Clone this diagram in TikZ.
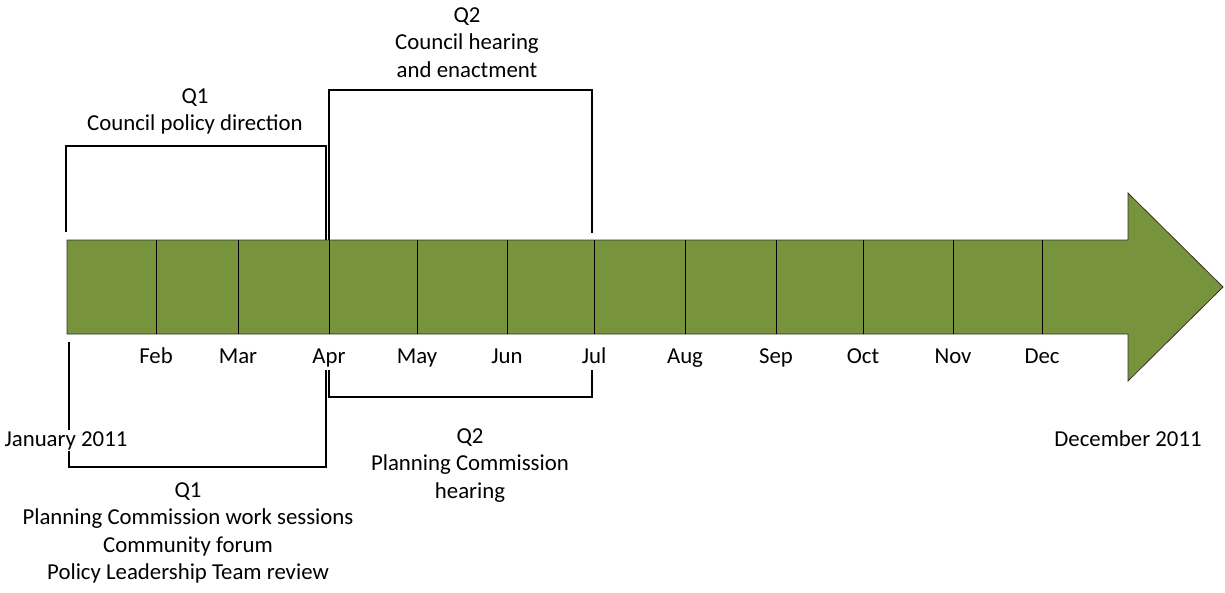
\documentclass[tikz,border=0pt]{standalone}
\usepackage{fontspec}
\setmainfont{Carlito}
\definecolor{olivebar}{HTML}{77933C}
\begin{document}
\begin{tikzpicture}[x=1pt,y=-1pt,
  lbl/.style={inner sep=0pt, align=center, font=\fontsize{22.8}{27.5}\selectfont},
  bracket/.style={draw=black, line width=1.7pt},
  divider/.style={draw=black, line width=1pt}]
\useasboundingbox (0,0) rectangle (1225,592);
% arrow
\coordinate (a1) at (67,240);
\coordinate (a2) at (1128,240);
\coordinate (a3) at (1128,193);
\coordinate (tip) at (1223,287);
\coordinate (a5) at (1128,381);
\coordinate (a6) at (1128,334);
\coordinate (a7) at (67,334);
\filldraw[fill=olivebar, draw=black!80, line width=0.8pt] (a1) -- (a2) -- (a3) -- (tip) -- (a5) -- (a6) -- (a7) -- cycle;
% dividers and months
\foreach \x/\m [count=\i] in {156/Feb,238/Mar,329/Apr,417/May,507/Jun,594/Jul,685/Aug,776/Sep,863/Oct,953/Nov,1042/Dec}{
  \coordinate (dt\i) at (\x,240);
  \coordinate (db\i) at (\x,334);
  \draw[divider] (dt\i) -- (db\i);
  \node[lbl, anchor=base] (m\i) at (\x,363) {\m};
}
% Q1 top bracket
\coordinate (q1a) at (66,232);
\coordinate (q1b) at (66,146);
\coordinate (q1c) at (326,146);
\coordinate (q1d) at (326,240);
\draw[bracket] (q1a) -- (q1b) -- (q1c) -- (q1d);
\node[lbl] (q1top) at (195,111.5) {Q1\\Council policy direction};
% Q2 top bracket
\coordinate (q2a) at (329,240);
\coordinate (q2b) at (329,90);
\coordinate (q2c) at (592,90);
\coordinate (q2d) at (592,233);
\draw[bracket] (q2a) -- (q2b) -- (q2c) -- (q2d);
\node[lbl] (q2top) at (467,42.5) {Q2\\Council hearing\\and enactment};
% Q1 bottom bracket
\coordinate (b1a) at (69,342);
\coordinate (b1b) at (69,467);
\coordinate (b1c) at (326,467);
\coordinate (b1d) at (326,370);
\draw[bracket] (b1a) -- (b1b) -- (b1c) -- (b1d);
\node[lbl, fill=white, inner sep=1pt, anchor=base] (jan) at (66,446) {January 2011};
\node[lbl] (q1bot) at (188,533) {Q1\\Planning Commission work sessions\\Community forum\\Policy Leadership Team review};
% Q2 bottom bracket
\coordinate (b2a) at (329,370);
\coordinate (b2b) at (329,397);
\coordinate (b2c) at (592,397);
\coordinate (b2d) at (592,370);
\draw[bracket] (b2a) -- (b2b) -- (b2c) -- (b2d);
\node[lbl] (q2bot) at (470,465.5) {Q2\\Planning Commission\\hearing};
\node[lbl, anchor=base] (dec) at (1128,446) {December 2011};
\end{tikzpicture}
\end{document}
